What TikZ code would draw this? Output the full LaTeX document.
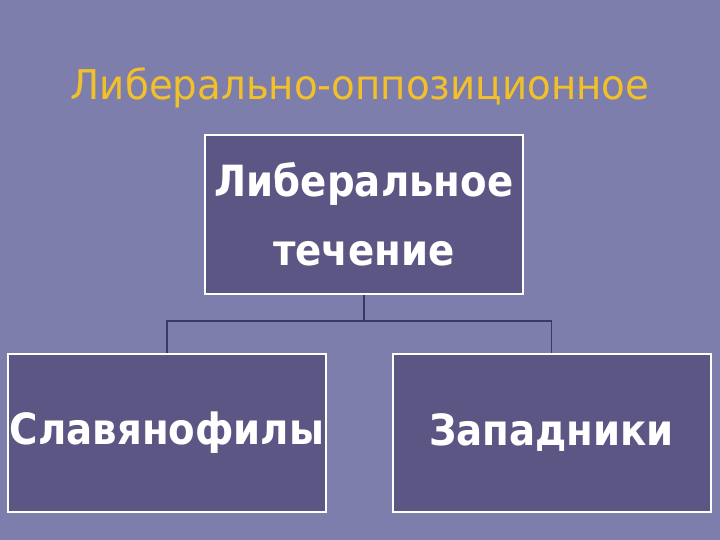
\documentclass[tikz,border=0pt]{standalone}
\usepackage{fontspec}
\setmainfont{DejaVu Sans}
\newfontfamily\titlefont[FakeStretch=0.945]{DejaVu Sans}
\newfontfamily\boxfont[FakeStretch=0.9]{DejaVu Sans Bold}
\definecolor{slidebg}{RGB}{126,126,172}
\definecolor{boxfill}{RGB}{92,86,132}
\definecolor{titlegold}{RGB}{242,192,40}
\definecolor{linkcol}{RGB}{58,56,100}
\begin{document}
\begin{tikzpicture}
  [x=1pt,y=-1pt,every node/.style={draw=white,line width=2pt,fill=boxfill,text=white,
   font=\boxfont\fontsize{43}{69}\selectfont,align=center,inner sep=0pt,
   minimum width=318pt,minimum height=158pt}]
  \fill[slidebg] (0,0) rectangle (720,540);
  \node[draw=none,fill=none,text=titlegold,font=\titlefont\fontsize{41}{48}\selectfont,
    minimum width=0pt,minimum height=0pt,anchor=base] (title) at (360,100) {Либерально-оппозиционное};
  \node (lib) at (364,214.5) {Либеральное\\течение};
  \node (slav) at (167,433) {Славянофилы};
  \node (zap) at (551.5,433) {Западники};
  \coordinate (fork) at (364,321);

  \draw[linkcol,line width=1.8pt] (lib) -- (fork);
  \foreach \to in {slav,zap}
    \draw[linkcol,line width=1.8pt] (fork) -| (\to);

\end{tikzpicture}
\end{document}
